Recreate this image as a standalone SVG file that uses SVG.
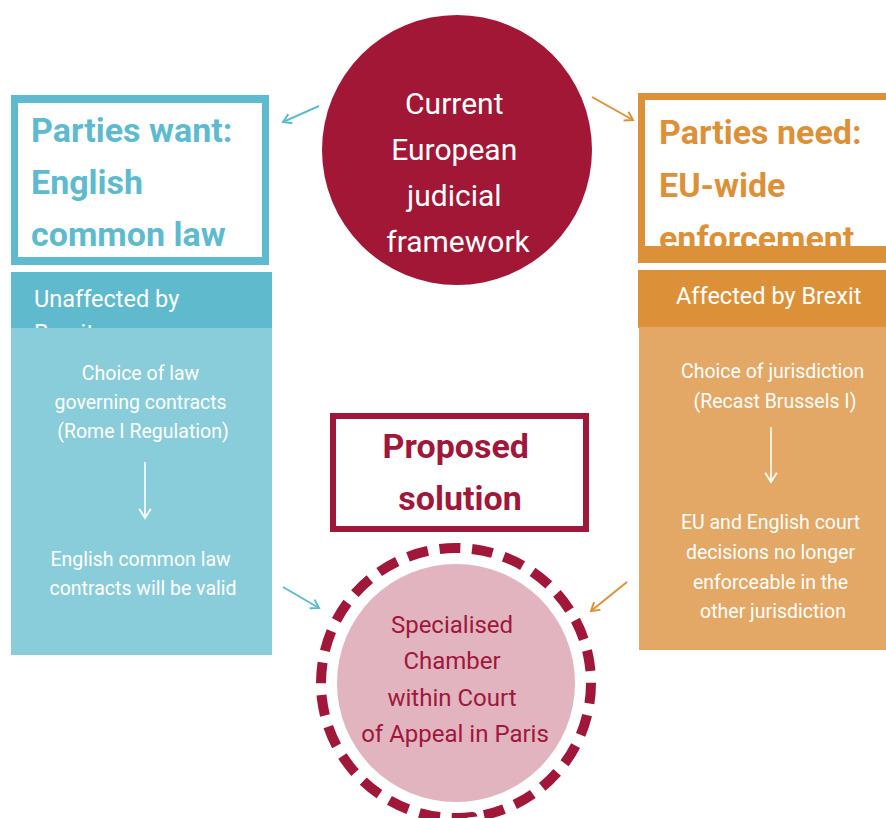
<svg xmlns="http://www.w3.org/2000/svg" width="886" height="818" viewBox="0 0 886 818">
  <defs>
    <style>
      text { font-family: Roboto, "Liberation Sans", Arial, sans-serif; }
      .title { font-size: 34px; font-weight: bold; }
      .band { font-size: 23.5px; fill: #ffffff; }
      .body { font-size: 19.5px; fill: #ffffff; text-anchor: middle; }
      .hub { font-size: 30px; fill: #ffffff; text-anchor: middle; }
      .sol { font-size: 24px; fill: #a0173a; text-anchor: middle; }
      .conn { fill: none; stroke-width: 2; }
    </style>
    <marker id="headBlue" viewBox="0 0 12 12" refX="10" refY="6" markerWidth="12" markerHeight="12" markerUnits="userSpaceOnUse" orient="auto">
      <path d="M2,1 L10,6 L2,11" fill="none" stroke="#5ebbcf" stroke-width="2"/>
    </marker>
    <marker id="headOrange" viewBox="0 0 12 12" refX="10" refY="6" markerWidth="12" markerHeight="12" markerUnits="userSpaceOnUse" orient="auto">
      <path d="M2,1 L10,6 L2,11" fill="none" stroke="#dc9138" stroke-width="2"/>
    </marker>
    <marker id="headWhite" viewBox="0 0 12 12" refX="10" refY="6" markerWidth="14" markerHeight="14" markerUnits="userSpaceOnUse" orient="auto">
      <path d="M2,1 L10,6 L2,11" fill="none" stroke="#ffffff" stroke-width="1.6"/>
    </marker>
    <clipPath id="clipRightTitle">
      <rect x="645" y="100" width="260" height="146"/>
    </clipPath>
  </defs>

  <rect width="886" height="818" fill="#ffffff"/>

  <!-- Left column: parties want English common law -->
  <g id="left-column">
    <rect x="11" y="95" width="258" height="170" fill="#5ebbcf"/>
    <rect x="18" y="103" width="244" height="154" fill="#ffffff"/>
    <text class="title" fill="#5ebbcf">
      <tspan x="31" y="142">Parties want:</tspan>
      <tspan x="31" y="194">English</tspan>
      <tspan x="31" y="246">common law</tspan>
    </text>
    <rect x="11" y="272" width="261" height="60" fill="#5fbacd"/>
    <text class="band">
      <tspan x="34" y="307">Unaffected by</tspan>
      <tspan x="34" y="341">Brexit</tspan>
    </text>
    <rect x="11" y="328" width="261" height="327" fill="#8acdda"/>
    <text class="body">
      <tspan x="143" y="380">Choice of law</tspan>
      <tspan x="143" y="409">governing contracts</tspan>
      <tspan x="143" y="438">(Rome I Regulation)</tspan>
    </text>
    <line x1="145" y1="462" x2="145" y2="518" stroke="#ffffff" stroke-width="1.6" marker-end="url(#headWhite)"/>
    <text class="body">
      <tspan x="143" y="566">English common law</tspan>
      <tspan x="143" y="595">contracts will be valid</tspan>
    </text>
  </g>

  <!-- Right column: parties need EU-wide enforcement -->
  <g id="right-column">
    <rect x="638" y="93" width="260" height="170" fill="#dc9138"/>
    <rect x="645" y="100" width="260" height="146" fill="#ffffff"/>
    <text class="title" fill="#dc9138" clip-path="url(#clipRightTitle)">
      <tspan x="659" y="144">Parties need:</tspan>
      <tspan x="659" y="197">EU-wide</tspan>
      <tspan x="659" y="250">enforcement</tspan>
    </text>
    <rect x="638" y="270" width="248" height="58" fill="#dc9138"/>
    <text class="band" x="676" y="304">Affected by Brexit</text>
    <rect x="639" y="327" width="247" height="323" fill="#e3a865"/>
    <text class="body">
      <tspan x="775" y="378">Choice of jurisdiction</tspan>
      <tspan x="775" y="408">(Recast Brussels I)</tspan>
    </text>
    <line x1="771" y1="427" x2="771" y2="482" stroke="#ffffff" stroke-width="1.6" marker-end="url(#headWhite)"/>
    <text class="body">
      <tspan x="773" y="529">EU and English court</tspan>
      <tspan x="773" y="559">decisions no longer</tspan>
      <tspan x="773" y="589">enforceable in the</tspan>
      <tspan x="773" y="618">other jurisdiction</tspan>
    </text>
  </g>

  <!-- Central hub: current framework -->
  <g id="framework">
    <circle cx="457" cy="150" r="135" fill="#a11735"/>
    <text class="hub">
      <tspan x="458" y="114">Current</tspan>
      <tspan x="458" y="160">European</tspan>
      <tspan x="458" y="206">judicial</tspan>
      <tspan x="458" y="252">framework</tspan>
    </text>
  </g>

  <!-- Proposed solution label -->
  <g id="proposed-label">
    <rect x="333" y="416" width="253" height="113" fill="none" stroke="#a0173a" stroke-width="6"/>
    <text class="title" fill="#a0173a" text-anchor="middle">
      <tspan x="460" y="458">Proposed</tspan>
      <tspan x="460" y="510">solution</tspan>
    </text>
  </g>

  <!-- Proposed solution: specialised chamber -->
  <g id="solution">
    <circle cx="456" cy="683" r="119" fill="#e1b4c0"/>
    <circle cx="456" cy="683" r="135" fill="none" stroke="#a0173a" stroke-width="10" pathLength="26" stroke-dasharray="0.64 0.36" transform="rotate(-97 456 683)"/>
    <text class="sol">
      <tspan x="455" y="633">Specialised</tspan>
      <tspan x="455" y="669">Chamber</tspan>
      <tspan x="455" y="706">within Court</tspan>
      <tspan x="455" y="742">of Appeal in Paris</tspan>
    </text>
  </g>

  <!-- Connectors -->
  <g id="connectors">
    <line class="conn" x1="319" y1="106" x2="283" y2="122" stroke="#5ebbcf" marker-end="url(#headBlue)"/>
    <line class="conn" x1="592" y1="97" x2="633" y2="120" stroke="#dc9138" marker-end="url(#headOrange)"/>
    <line class="conn" x1="283" y1="587" x2="319" y2="608" stroke="#5ebbcf" marker-end="url(#headBlue)"/>
    <line class="conn" x1="627" y1="582" x2="591" y2="611" stroke="#dc9138" marker-end="url(#headOrange)"/>
  </g>
</svg>
